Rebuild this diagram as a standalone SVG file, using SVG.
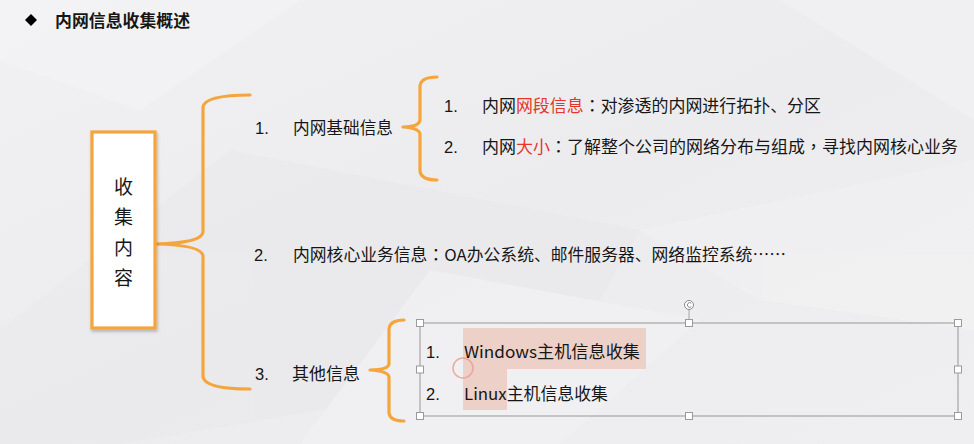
<svg xmlns="http://www.w3.org/2000/svg" width="974" height="444" viewBox="0 0 974 444">
<defs>
<style>
.t{font-family:"Liberation Sans","Noto Sans CJK SC",sans-serif;font-size:16.5px;fill:#161616}
.cjk{font-family:"Noto Sans CJK SC","Liberation Sans",sans-serif;font-size:16.5px;fill:#161616}
.p{font-family:"Noto Sans CJK TC","Noto Sans CJK SC",sans-serif}
.red{fill:#e8352b}
.brace{fill:none;stroke:#f5a53b;stroke-width:3.2;stroke-linecap:round;stroke-linejoin:round}
.h{fill:#ffffff;stroke:#9a9a9a;stroke-width:1}
</style>
<linearGradient id="bg" x1="0" y1="0" x2="1" y2="1">
<stop offset="0" stop-color="#f1f1f3"/>
<stop offset="0.5" stop-color="#ececee"/>
<stop offset="1" stop-color="#efeff1"/>
</linearGradient>
<filter id="sh" x="-20%" y="-10%" width="140%" height="120%">
<feDropShadow dx="1" dy="2" stdDeviation="1.5" flood-color="#000" flood-opacity="0.25"/>
</filter>
</defs>
<rect width="974" height="444" fill="url(#bg)"/>
<g opacity="0.45">
<polygon points="0,0 300,0 140,110 0,60" fill="#f6f6f8"/>
<polygon points="230,150 640,230 560,370 120,444 0,444 0,330" fill="#e8e8ea"/>
<polygon points="640,230 974,160 974,330 760,300" fill="#f3f3f5"/>
<polygon points="430,270 700,320 560,444 300,444" fill="#f4f4f6"/>
<polygon points="780,0 974,0 974,120" fill="#f5f5f7"/>
</g>
<g id="title">
<polygon points="31,14 37,20 31,26 25,20" fill="#000"/>
<text x="55" y="27" class="cjk" style="font-weight:bold" textLength="135" lengthAdjust="spacingAndGlyphs">内网信息收集概述</text>
</g>
<g id="connectors">
<path class="brace" d="M250,95 Q205,95 203,107 L203,232 Q202,243 156,244 Q202,245 203,256 L203,377 Q205,389 250,389"/>
<path class="brace" d="M437,77 Q421,77 420,86 L420,120 Q419,127 403,127 Q419,128 420,134 L420,171 Q421,180 437,180"/>
<path class="brace" d="M404,320 Q390,320 389,329 L389,364 Q388,370 370,370 Q388,371 389,377 L389,413 Q390,421 404,421"/>
</g>
<g id="node-root">
<rect x="92" y="132" width="63" height="196" fill="#ffffff" stroke="#f5a53b" stroke-width="3.2" filter="url(#sh)"/>
<text class="cjk" x="123.5" y="194" text-anchor="middle" style="font-size:19px">收</text>
<text class="cjk" x="123.5" y="224" text-anchor="middle" style="font-size:19px">集</text>
<text class="cjk" x="123.5" y="255" text-anchor="middle" style="font-size:19px">内</text>
<text class="cjk" x="123.5" y="285" text-anchor="middle" style="font-size:19px">容</text>
</g>
<g id="node-basic">
<text class="t" x="255" y="134">1.</text>
<text class="cjk" x="293" y="134" textLength="100" lengthAdjust="spacingAndGlyphs">内网基础信息</text>
</g>
<g id="node-basic-1">
<text class="t" x="444" y="112">1.</text>
<text class="cjk" x="482" y="112" textLength="339" lengthAdjust="spacingAndGlyphs">内网<tspan class="red">网段信息</tspan><tspan class="p">：</tspan>对渗透的内网进行拓扑、分区</text>
</g>
<g id="node-basic-2">
<text class="t" x="444" y="153">2.</text>
<text class="cjk" x="482" y="153" textLength="476" lengthAdjust="spacingAndGlyphs">内网<tspan class="red">大小</tspan><tspan class="p">：</tspan>了解整个公司的网络分布与组成<tspan class="p">，</tspan>寻找内网核心业务</text>
</g>
<g id="node-core">
<text class="t" x="254" y="261">2.</text>
<text class="cjk" x="293" y="261" textLength="493" lengthAdjust="spacingAndGlyphs">内网核心业务信息<tspan class="p">：</tspan>OA办公系统、邮件服务器、网络监控系统……</text>
</g>
<g id="node-other">
<text class="t" x="255" y="380">3.</text>
<text class="cjk" x="292" y="380" textLength="68" lengthAdjust="spacingAndGlyphs">其他信息</text>
</g>
<g id="node-other-box">
<rect x="463" y="328" width="183" height="41" fill="#e9a895" opacity="0.45"/>
<rect x="463" y="369" width="44" height="41" fill="#e9a895" opacity="0.45"/>
<rect x="420" y="323" width="538" height="93" fill="none" stroke="#a6a6a6" stroke-width="1.2"/>
<line x1="689" y1="323" x2="689" y2="309" stroke="#a6a6a6" stroke-width="1"/>
<circle cx="689" cy="305" r="4.5" fill="#ffffff" stroke="#8a8a8a" stroke-width="1"/>
<path d="M691.2,303.3 A2.3,2.3 0 1 0 691.2,306.7" fill="none" stroke="#7a7a7a" stroke-width="0.9"/>
<rect class="h" x="416.5" y="319.5" width="7" height="7"/>
<rect class="h" x="685.5" y="319.5" width="7" height="7"/>
<rect class="h" x="954.5" y="319.5" width="7" height="7"/>
<rect class="h" x="416.5" y="366" width="7" height="7"/>
<rect class="h" x="954.5" y="366" width="7" height="7"/>
<rect class="h" x="416.5" y="412.5" width="7" height="7"/>
<rect class="h" x="685.5" y="412.5" width="7" height="7"/>
<rect class="h" x="954.5" y="412.5" width="7" height="7"/>
<circle cx="463" cy="368" r="10" fill="none" stroke="#ea9a8c" stroke-width="1.5" opacity="0.8"/>
<text class="t" x="426" y="358">1.</text>
<text class="cjk" x="464" y="358" textLength="176" lengthAdjust="spacingAndGlyphs">Windows主机信息收集</text>
<text class="t" x="426" y="400">2.</text>
<text class="cjk" x="464" y="400" textLength="144" lengthAdjust="spacingAndGlyphs">Linux主机信息收集</text>
</g>
</svg>
